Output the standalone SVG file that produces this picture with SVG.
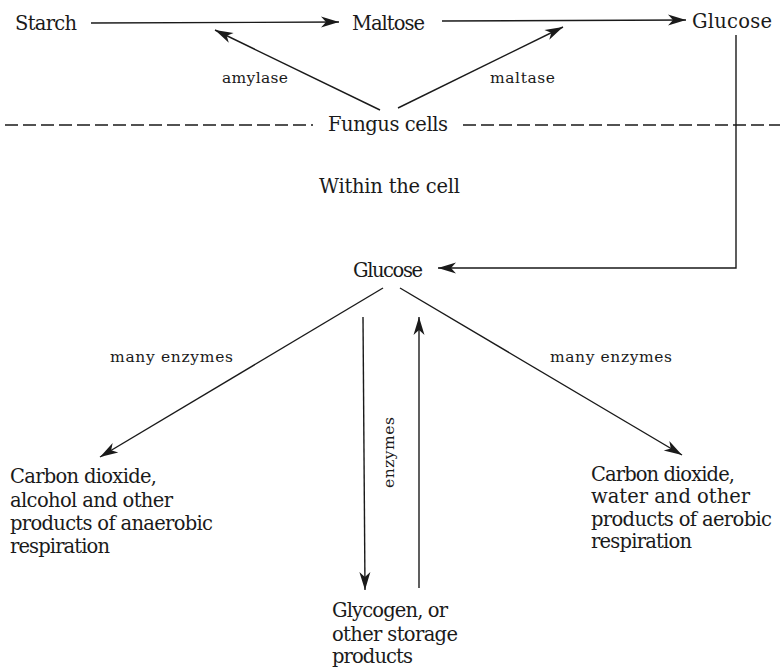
<svg xmlns="http://www.w3.org/2000/svg" width="780" height="669" viewBox="0 0 780 669">
<style>
.t{font-family:"DejaVu Serif","Liberation Serif",serif;font-size:19.5px;fill:#1a1a1a}
.s{font-family:"DejaVu Serif","Liberation Serif",serif;font-size:15.5px;fill:#1a1a1a}
.c{fill:none;stroke:#1a1a1a;stroke-width:1.4}
.d{fill:none;stroke:#1a1a1a;stroke-width:1.6;stroke-dasharray:13 5}
</style>
<defs>
<marker id="ah" markerUnits="userSpaceOnUse" markerWidth="24" markerHeight="14" viewBox="-20 -7 22 14" refX="0" refY="0" orient="auto">
<path d="M0,0 L-18,-5.5 L-13,0 L-18,5.5 Z" fill="#1a1a1a"/>
</marker>
</defs>
<rect width="780" height="669" fill="#fff"/>
<g id="starch"><text class="t" x="15" y="30" textLength="62" lengthAdjust="spacing">Starch</text></g>
<g id="maltose"><text class="t" x="352" y="30" textLength="73" lengthAdjust="spacing">Maltose</text></g>
<g id="glucose-out"><text class="t" x="692" y="28" textLength="80" lengthAdjust="spacing">Glucose</text></g>
<g id="fungus"><text class="t" x="328" y="131" textLength="120" lengthAdjust="spacing">Fungus cells</text></g>
<g id="within"><text class="t" x="319" y="193" textLength="141" lengthAdjust="spacing">Within the cell</text></g>
<g id="glucose-in"><text class="t" x="353" y="277" textLength="70" lengthAdjust="spacing">Glucose</text></g>
<g id="anaerobic">
<text class="t" x="10" y="483" textLength="147" lengthAdjust="spacing">Carbon dioxide,</text>
<text class="t" x="10" y="507" textLength="163" lengthAdjust="spacing">alcohol and other</text>
<text class="t" x="10" y="530" textLength="203" lengthAdjust="spacing">products of anaerobic</text>
<text class="t" x="10" y="553" textLength="100" lengthAdjust="spacing">respiration</text>
</g>
<g id="aerobic">
<text class="t" x="591" y="481" textLength="144" lengthAdjust="spacing">Carbon dioxide,</text>
<text class="t" x="591" y="503">water and other</text>
<text class="t" x="591" y="526" textLength="181" lengthAdjust="spacing">products of aerobic</text>
<text class="t" x="591" y="548" textLength="101" lengthAdjust="spacing">respiration</text>
</g>
<g id="glycogen">
<text class="t" x="332" y="617" textLength="116" lengthAdjust="spacing">Glycogen, or</text>
<text class="t" x="332" y="641" textLength="126" lengthAdjust="spacing">other storage</text>
<text class="t" x="332" y="663" textLength="81" lengthAdjust="spacing">products</text>
</g>
<g id="connectors">
<line class="d" x1="5" y1="125" x2="313" y2="125"/>
<line class="d" x1="463" y1="125" x2="780" y2="125"/>
<line class="c" x1="91" y1="23" x2="339" y2="22" marker-end="url(#ah)"/>
<line class="c" x1="442" y1="21" x2="686" y2="20" marker-end="url(#ah)"/>
<line class="c" x1="380" y1="110" x2="215" y2="30" marker-end="url(#ah)"/>
<line class="c" x1="398" y1="108" x2="563" y2="27" marker-end="url(#ah)"/>
<path class="c" d="M736,35 V268 H438" marker-end="url(#ah)"/>
<line class="c" x1="383" y1="288" x2="100" y2="457" marker-end="url(#ah)"/>
<line class="c" x1="400" y1="288" x2="682" y2="455" marker-end="url(#ah)"/>
<line class="c" x1="363" y1="317" x2="365" y2="590" marker-end="url(#ah)"/>
<line class="c" x1="419" y1="588" x2="419" y2="317" marker-end="url(#ah)"/>
<text class="s" x="222" y="83" textLength="66" lengthAdjust="spacing">amylase</text>
<text class="s" x="490" y="83" textLength="65" lengthAdjust="spacing">maltase</text>
<text class="s" x="110" y="362" textLength="123" lengthAdjust="spacing">many enzymes</text>
<text class="s" x="550" y="362" textLength="122" lengthAdjust="spacing">many enzymes</text>
<text class="s" transform="translate(394,488) rotate(-90)" x="0" y="0" textLength="71" lengthAdjust="spacing">enzymes</text>
</g>
</svg>
